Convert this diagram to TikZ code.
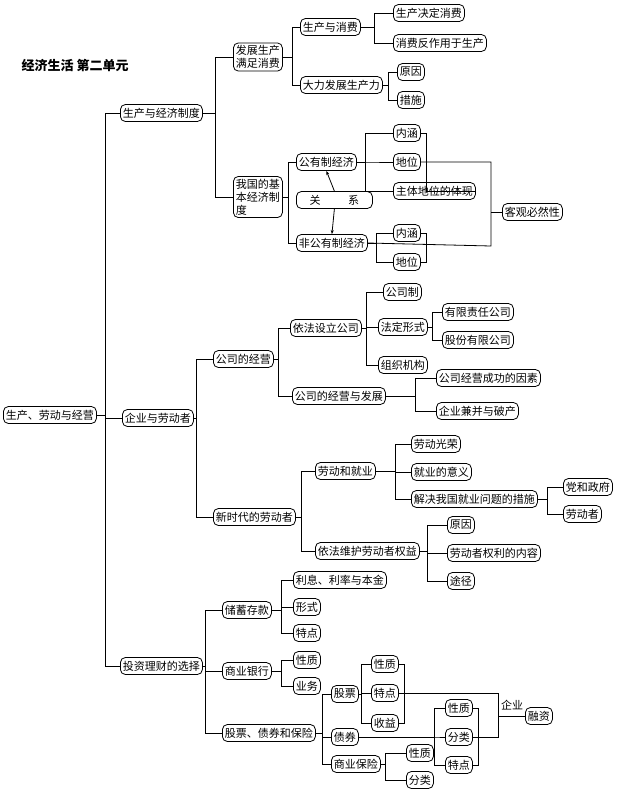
\documentclass[tikz,border=0pt]{standalone}
\usepackage{fontspec}
\newfontfamily\cjk{Noto Sans CJK SC}
\usetikzlibrary{arrows.meta,positioning}
\tikzset{box/.style={draw, rounded corners=5pt, inner sep=2.5pt, minimum height=17pt, anchor=west, font=\cjk\fontsize{11}{13}\selectfont, align=left},
  link/.style={draw, line width=0.8pt}}
\newcommand\branch[3]{\foreach \c in {#3}{\draw[link] (#1.east) -- ++(#2,0) |- (\c.west);}}
\newcommand\closeup[3]{\draw[link] (#1.east) -- ++(#3,0) |- (#2.east);}

\begin{document}
\begin{tikzpicture}[x=1pt, y=-1pt, line width=0.8pt]
  \useasboundingbox (0,0) rectangle (625,796);
  \node[anchor=west, font=\cjk\bfseries\fontsize{13}{15}\selectfont] (title) at (18,65) {经济生活 第二单元};

  % root and first level
  \node[box] (root) at (3,415) {生产、劳动与经营};
  \node[box] (prod) at (120,113) {生产与经济制度};
  \node[box] (firm) at (122,418) {企业与劳动者};
  \node[box] (inv) at (120,666) {投资理财的选择};
  \branch{root}{9}{prod,firm,inv}

  % production and economic system
  \node[box] (dev) at (233,57) {发展生产\\满足消费};
  \node[box] (sys) at (233,197) {我国的基\\本经济制\\度};
  \branch{prod}{13}{dev,sys}
  \node[box] (pc) at (300,27) {生产与消费};
  \node[box] (force) at (300,85) {大力发展生产力};
  \branch{dev}{10}{pc,force}
  \node[box] (pc1) at (393,13) {生产决定消费};
  \node[box] (pc2) at (393,43) {消费反作用于生产};
  \branch{pc}{14}{pc1,pc2}
  \node[box] (why) at (397,72) {原因};
  \node[box] (how) at (397,100) {措施};
  \branch{force}{6}{why,how}

  \node[box] (pub) at (296,162) {公有制经济};
  \node[box, minimum width=76pt] (rel) at (296,200) {关\hspace{2.5em}系};
  \node[box] (npub) at (296,243) {非公有制经济};
  \branch{sys}{6}{pub,npub}
  \draw[-{Stealth[length=4pt]}] (rel.north) -- (pub.south);
  \draw[-{Stealth[length=4pt]}] (rel.south) -- (npub.north);
  \node[box] (pubA) at (393,133) {内涵};
  \node[box] (pubB) at (393,162) {地位};
  \node[box] (pubC) at (393,191) {主体地位的体现};
  \branch{pub}{9}{pubA,pubB,pubC}
  \node[box] (npubA) at (393,233) {内涵};
  \node[box] (npubB) at (393,262) {地位};
  \branch{npub}{9}{npubA,npubB}
  \closeup{npubA}{npubB}{6}
  \node[box] (need) at (502,212) {客观必然性};
  \closeup{pubA}{pubC}{6}
  \draw[link] (pubB.east) -| (491,246) -- (npub.east);
  \draw[link] (491,212) -- (need.west);

  % enterprises and workers
  \node[box] (co) at (213,359) {公司的经营};
  \node[box] (wk) at (213,517) {新时代的劳动者};
  \branch{firm}{3}{co,wk}
  \node[box] (set) at (290,328) {依法设立公司};
  \node[box] (opr) at (292,396) {公司的经营与发展};
  \branch{co}{5}{set,opr}
  \node[box] (coA) at (383,292) {公司制};
  \node[box] (coB) at (378,327) {法定形式};
  \node[box] (coC) at (378,365) {组织机构};
  \branch{set}{5}{coA,coB,coC}
  \node[box] (ltd) at (442,312) {有限责任公司};
  \node[box] (shr) at (442,340) {股份有限公司};
  \branch{coB}{5}{ltd,shr}
  \node[box] (succ) at (436,378) {公司经营成功的因素};
  \node[box] (merge) at (436,411) {企业兼并与破产};
  \branch{opr}{30}{succ,merge}

  \node[box] (job) at (315,471) {劳动和就业};
  \node[box] (law) at (315,551) {依法维护劳动者权益};
  \branch{wk}{6}{job,law}
  \node[box] (jobA) at (411,444) {劳动光荣};
  \node[box] (jobB) at (411,472) {就业的意义};
  \node[box] (jobC) at (411,499) {解决我国就业问题的措施};
  \branch{job}{20}{jobA,jobB,jobC}
  \node[box] (gov) at (563,487) {党和政府};
  \node[box] (lab) at (563,514) {劳动者};
  \branch{jobC}{10}{gov,lab}
  \node[box] (lawA) at (447,525) {原因};
  \node[box] (lawB) at (447,553) {劳动者权利的内容};
  \node[box] (lawC) at (447,581) {途径};
  \branch{law}{8}{lawA,lawB,lawC}

  % investment
  \node[box] (dep) at (222,610) {储蓄存款};
  \node[box] (bank) at (222,671) {商业银行};
  \node[box] (sec) at (222,733) {股票、债券和保险};
  \branch{inv}{3}{dep,bank,sec}
  \node[box] (depA) at (293,580) {利息、利率与本金};
  \node[box] (depB) at (293,607) {形式};
  \node[box] (depC) at (293,633) {特点};
  \branch{dep}{10}{depA,depB,depC}
  \node[box] (bankA) at (293,660) {性质};
  \node[box] (bankB) at (293,686) {业务};
  \branch{bank}{10}{bankA,bankB}
  \node[box] (stk) at (331,694) {股票};
  \node[box] (bond) at (331,737) {债券};
  \node[box] (ins) at (331,764) {商业保险};
  \branch{sec}{7}{stk,bond,ins}
  \node[box] (stkA) at (371,664) {性质};
  \node[box] (stkB) at (371,693) {特点};
  \node[box] (stkC) at (371,723) {收益};
  \branch{stk}{3}{stkA,stkB,stkC}
  \closeup{stkA}{stkC}{6}
  \node[box] (bondA) at (445,708) {性质};
  \node[box] (bondB) at (445,737) {分类};
  \node[box] (bondC) at (445,765) {特点};
  \branch{bond}{76}{bondA,bondB,bondC}
  \closeup{bondA}{bondC}{6}
  \node[box] (insA) at (406,753) {性质};
  \node[box] (insB) at (406,780) {分类};
  \branch{ins}{5}{insA,insB}
  \node[box] (fin) at (525,716) {融资};
  \node[anchor=south, font=\cjk\fontsize{11}{13}\selectfont] (ent) at (512,714) {企业};
  \draw[link] (stkB.east) -| (498,737) -- (bondB.east);
  \draw[link] (498,716) -- (fin.west);
\end{tikzpicture}
\end{document}
